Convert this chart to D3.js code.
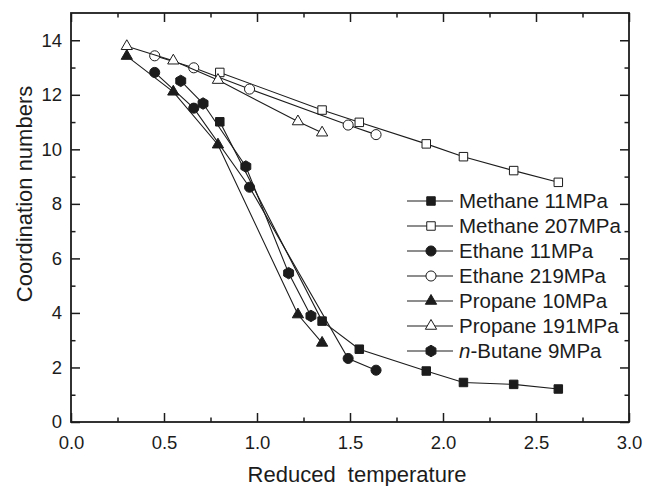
<!DOCTYPE html>
<html>
<head>
<meta charset="utf-8">
<script src="https://cdn.jsdelivr.net/npm/d3@7"></script>
<style>
  body { margin: 0; background: #fff; }
  svg { font-family: "Liberation Sans", Arial, Helvetica, sans-serif; }
</style>
</head>
<body>
<svg id="chart"></svg>
<script>
// Series values (x = reduced temperature, y = coordination number)
const methane11x  = [0.80, 1.35, 1.55, 1.91, 2.11, 2.38, 2.62];
const methane11y  = [11.01, 3.70, 2.67, 1.87, 1.45, 1.38, 1.21];
const methane207x = [0.80, 1.35, 1.55, 1.91, 2.11, 2.38, 2.62];
const methane207y = [12.82, 11.44, 10.99, 10.20, 9.73, 9.22, 8.79];
const ethane11x   = [0.45, 0.66, 0.96, 1.49, 1.64];
const ethane11y   = [12.82, 11.51, 8.61, 2.33, 1.90];
const ethane219x  = [0.45, 0.66, 0.96, 1.49, 1.64];
const ethane219y  = [13.43, 12.99, 12.21, 10.89, 10.54];
const propane10x  = [0.30, 0.55, 0.79, 1.22, 1.35];
const propane10y  = [13.42, 12.11, 10.17, 3.94, 2.90];
const propane191x = [0.30, 0.55, 0.79, 1.22, 1.35];
const propane191y = [13.78, 13.25, 12.54, 11.02, 10.61];
const butane9x    = [0.59, 0.71, 0.94, 1.17, 1.29];
const butane9y    = [12.51, 11.68, 9.37, 5.46, 3.89];

const seriesNames = ["Methane 11MPa", "Methane 207MPa", "Ethane 11MPa", "Ethane 219MPa",
                     "Propane 10MPa", "Propane 191MPa", "n-Butane 9MPa"];

const xTicks = [0, 0.5, 1.0, 1.5, 2.0, 2.5, 3.0];
const xMinor = [0.25, 0.75, 1.25, 1.75, 2.25, 2.75];
const yTicks = [0, 2, 4, 6, 8, 10, 12, 14];
const yMinor = [1, 3, 5, 7, 9, 11, 13];

const width = 647, height = 486;
const margin = {top: 13, right: 18, bottom: 64, left: 71};
const ink = "#1c1c1c";

const svg = d3.select("#chart").attr("width", width).attr("height", height);

const x = d3.scaleLinear().domain([0, 3]).range([margin.left, width - margin.right]);
const y = d3.scaleLinear().domain([0, 15]).range([height - margin.bottom, margin.top]);

// marker shapes
const hexagon = {
  draw(ctx, size) {
    const r = Math.sqrt(size / (1.5 * Math.sqrt(3)));
    for (let i = 0; i < 6; i++) {
      const a = Math.PI / 3 * i + Math.PI / 6;
      const px = r * Math.cos(a), py = r * Math.sin(a);
      if (i === 0) ctx.moveTo(px, py); else ctx.lineTo(px, py);
    }
    ctx.closePath();
  }
};

const series = [
  {name: seriesNames[0], xs: methane11x,  ys: methane11y,  shape: d3.symbolSquare,   size: 72, fill: ink},
  {name: seriesNames[1], xs: methane207x, ys: methane207y, shape: d3.symbolSquare,   size: 72, fill: "#fff"},
  {name: seriesNames[2], xs: ethane11x,   ys: ethane11y,   shape: d3.symbolCircle,   size: 80, fill: ink},
  {name: seriesNames[3], xs: ethane219x,  ys: ethane219y,  shape: d3.symbolCircle,   size: 80, fill: "#fff"},
  {name: seriesNames[4], xs: propane10x,  ys: propane10y,  shape: d3.symbolTriangle, size: 55, fill: ink},
  {name: seriesNames[5], xs: propane191x, ys: propane191y, shape: d3.symbolTriangle, size: 55, fill: "#fff"},
  {name: seriesNames[6], xs: butane9x,    ys: butane9y,    shape: hexagon,           size: 85, fill: ink}
];

// axes with inward ticks on all four sides
const xb = height - margin.bottom, yl = margin.left, yr = width - margin.right, xt = margin.top;

const addAxis = (axis, tx, ty, labels) => {
  const g = svg.append("g").attr("transform", `translate(${tx},${ty})`).call(axis);
  g.select(".domain").remove();
  g.selectAll("line").attr("stroke", ink).attr("stroke-width", 1.5);
  if (!labels) g.selectAll("text").remove();
  else g.selectAll("text").attr("fill", ink).attr("font-size", 18.5).attr("font-family", null);
  return g;
};

addAxis(d3.axisBottom(x).tickValues(xTicks).tickSizeInner(-9).tickSizeOuter(0).tickPadding(14)
  .tickFormat(d3.format(".1f")), 0, xb, true);
addAxis(d3.axisBottom(x).tickValues(xMinor).tickSizeInner(-4.5).tickSizeOuter(0), 0, xb, false);
addAxis(d3.axisTop(x).tickValues(xTicks).tickSizeInner(-9).tickSizeOuter(0), 0, xt, false);
addAxis(d3.axisTop(x).tickValues(xMinor).tickSizeInner(-4.5).tickSizeOuter(0), 0, xt, false);
addAxis(d3.axisLeft(y).tickValues(yTicks).tickSizeInner(-9).tickSizeOuter(0).tickPadding(9)
  .tickFormat(d3.format("d")), yl, 0, true);
addAxis(d3.axisLeft(y).tickValues(yMinor).tickSizeInner(-4.5).tickSizeOuter(0), yl, 0, false);
addAxis(d3.axisRight(y).tickValues(yTicks).tickSizeInner(-9).tickSizeOuter(0), yr, 0, false);
addAxis(d3.axisRight(y).tickValues(yMinor).tickSizeInner(-4.5).tickSizeOuter(0), yr, 0, false);

svg.append("rect")
  .attr("x", yl).attr("y", xt)
  .attr("width", yr - yl).attr("height", xb - xt)
  .attr("fill", "none").attr("stroke", ink).attr("stroke-width", 1.8);

// axis titles
svg.append("text")
  .attr("x", 357).attr("y", 482)
  .attr("text-anchor", "middle")
  .attr("font-size", 22).attr("fill", ink)
  .style("white-space", "pre")
  .text("Reduced  temperature");

svg.append("text")
  .attr("transform", "translate(32,194) rotate(-90)")
  .attr("text-anchor", "middle")
  .attr("font-size", 22).attr("fill", ink)
  .text("Coordination numbers");

// lines and markers
const line = d3.line().x(d => x(d[0])).y(d => y(d[1]));

series.forEach(s => {
  const pts = s.xs.map((v, i) => [v, s.ys[i]]);
  const g = svg.append("g");
  g.append("path")
    .attr("d", line(pts))
    .attr("fill", "none").attr("stroke", ink).attr("stroke-width", 1.1);
  g.selectAll("path.m")
    .data(pts).enter().append("path")
    .attr("class", "m")
    .attr("transform", d => `translate(${x(d[0])},${y(d[1])})`)
    .attr("d", d3.symbol(s.shape, s.size))
    .attr("fill", s.fill).attr("stroke", ink).attr("stroke-width", 1);
});

// legend
const legX = 407, legY = 201, legStep = 25;
const leg = svg.append("g");
series.forEach((s, i) => {
  const gy = legY + i * legStep;
  leg.append("line")
    .attr("x1", legX).attr("x2", legX + 46).attr("y1", gy).attr("y2", gy)
    .attr("stroke", ink).attr("stroke-width", 1.1);
  leg.append("path")
    .attr("transform", `translate(${legX + 24},${gy})`)
    .attr("d", d3.symbol(s.shape, s.size))
    .attr("fill", s.fill).attr("stroke", ink).attr("stroke-width", 1);
  const t = leg.append("text")
    .attr("x", legX + 52).attr("y", gy).attr("dy", "0.36em")
    .attr("font-size", 20.5).attr("fill", ink);
  if (s.name.startsWith("n-")) {
    t.append("tspan").attr("font-style", "italic").text("n");
    t.append("tspan").text(s.name.slice(1));
  } else {
    t.text(s.name);
  }
});
</script>
</body>
</html>
